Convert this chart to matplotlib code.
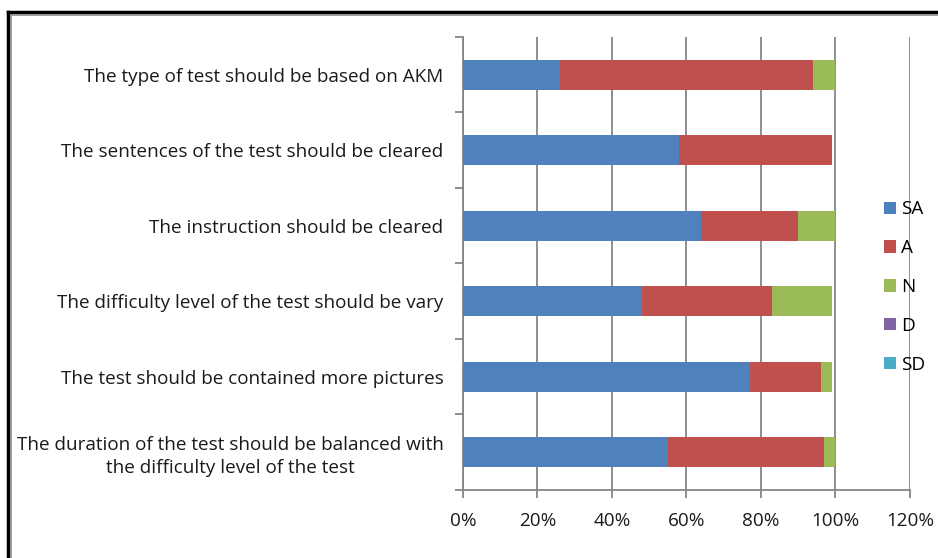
import numpy as np
import matplotlib.pyplot as plt
from matplotlib.lines import Line2D

plt.rcParams['font.family'] = ['Open Sans', 'DejaVu Sans']

# Statements, bottom to top as drawn
labels = ['The duration of the test should be balanced with\nthe difficulty level of the test',
          'The test should be contained more pictures',
          'The difficulty level of the test should be vary',
          'The instruction should be cleared',
          'The sentences of the test should be cleared',
          'The type of test should be based on AKM']

# Shares of answers (%)
sa = [55, 77, 48, 64, 58, 26]
a = [42, 19, 35, 26, 41, 68]
n = [3, 3, 16, 10, 0, 6]
d = [0, 0, 0, 0, 0, 0]
sd = [0, 0, 0, 0, 0, 0]

series = ['SA', 'A', 'N', 'D', 'SD']
colors = ['#4F81BD', '#C0504D', '#9BBB59', '#8064A2', '#4BACC6']

fig = plt.figure(figsize=(9.38, 5.58), dpi=100)
ax = fig.add_axes([0.4936, 0.1219, 0.4765, 0.8118])

y = np.arange(len(labels))
left = np.zeros(len(labels))
for name, vals, c in zip(series, [sa, a, n, d, sd], colors):
    vals = np.array(vals) / 100
    ax.barh(y, vals, left=left, height=0.4, color=c, label=name, zorder=3)
    left += vals

ax.set_xlim(0, 1.2)
ax.set_ylim(-0.5, len(labels) - 0.5)
ax.set_xticks(np.arange(0, 1.21, 0.2))
ax.set_xticklabels([f'{int(round(v * 100))}%' for v in np.arange(0, 1.21, 0.2)])
ax.set_yticks(y)
ax.set_yticklabels(labels, multialignment='center', linespacing=1.35)
ax.set_yticks(np.arange(-0.5, len(labels), 1), minor=True)
ax.tick_params(axis='y', which='major', length=0, pad=14)
ax.tick_params(axis='y', which='minor', length=6, color='#868686', width=1.3)
ax.tick_params(axis='x', length=6, color='#868686', width=1.3, pad=9.5)
ax.tick_params(labelsize=13.6, labelcolor='#1a1a1a')

ax.grid(axis='x', color='#868686', linewidth=1.3, zorder=0)
for s in ['top', 'right']:
    ax.spines[s].set_visible(False)
for s in ['left', 'bottom']:
    ax.spines[s].set_color('#868686')
    ax.spines[s].set_linewidth(1.3)

leg = ax.legend(loc='center left', bbox_to_anchor=(0.925, 0.448), frameon=False,
                fontsize=13.6, handlelength=0.62, handleheight=0.62,
                handletextpad=0.3, labelspacing=1.1, borderaxespad=0)

# outer chart frame
fig.add_artist(Line2D([0.0085, 0.0085], [0, 0.978], color='black', lw=2.5))
fig.add_artist(Line2D([0.0085, 1], [0.978, 0.978], color='black', lw=2.5))
fig.add_artist(Line2D([0.0115, 0.0115], [0, 0.974], color='#8c8c8c', lw=1.2))
fig.add_artist(Line2D([0.0115, 1], [0.974, 0.974], color='#8c8c8c', lw=1.2))

fig.savefig('out.png', dpi=100)
